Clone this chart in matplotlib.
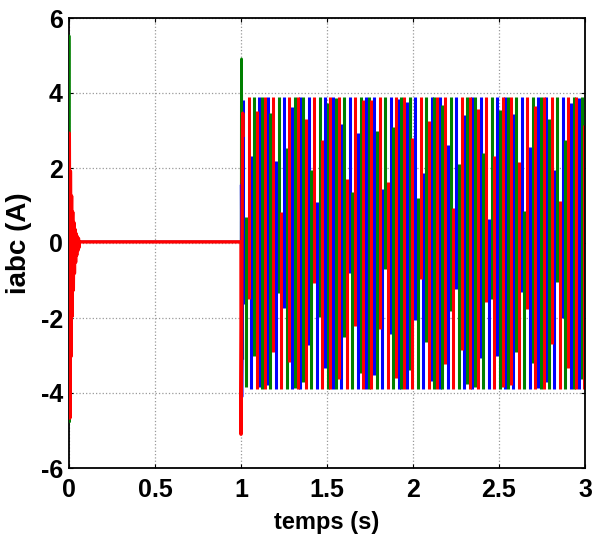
import numpy as np
import matplotlib
matplotlib.use("Agg")
import matplotlib.pyplot as plt

plt.rcParams['font.family'] = ['Liberation Sans', 'DejaVu Sans']

# --- data ---
phases = ["ia", "ib", "ic"]
colors = ["#0000ff", "#008000", "#ff0000"]
phase_deg = [60, -60, 180]              # phase of each current at the load step
freq_hz = 50.0
steady_amp = [3.9, 3.9, 3.9]
load_step_time = 1.0
step_dc = [-0.4, 1.4, -1.2]             # decaying offset right after t = 1 s
startup_hi = [1.6, 5.5, 2.9]            # first max near t = 0
startup_lo = [-1.5, -4.8, -4.7]         # first min near t = 0
startup_ratio = [0.4, 0.25, 0.65]       # cycle-to-cycle decay of the start-up ringing
startup_freq = 150.0
idle_level = [0.03, 0.03, 0.03]         # current between 0.05 s and 1 s
x_ticks = [0, 0.5, 1, 1.5, 2, 2.5, 3]
x_tick_labels = ["0", "0.5", "1", "1.5", "2", "2.5", "3"]
y_ticks = [-6, -4, -2, 0, 2, 4, 6]
y_tick_labels = ["-6", "-4", "-2", "0", "2", "4", "6"]

fig = plt.figure(figsize=(5.97, 5.44), dpi=100)
ax = fig.add_axes([69/597, 1-468/544, (585-69)/597, (468-18)/544])

w = 2*np.pi*freq_hz

def current(k, t):
    y = np.full_like(t, idle_level[k], dtype=float)
    m0 = t < 0.06
    ts = t[m0]
    lobe = np.floor(ts*2*startup_freq)
    frac = ts*2*startup_freq - lobe
    base = np.where(lobe % 2 == 0, startup_hi[k], startup_lo[k])
    y[m0] = base*startup_ratio[k]**np.floor(lobe/2)*np.sin(np.pi*frac) + idle_level[k]
    m1 = t >= load_step_time
    tt = t[m1] - load_step_time
    y[m1] = steady_amp[k]*np.cos(w*tt + np.deg2rad(phase_deg[k])) + step_dc[k]*np.exp(-tt/0.01)
    return y

# start-up, idle period and load step drawn as ordinary lines
t_low = np.arange(0, 1.012, 5e-5)
for k in [1, 0, 2]:
    ax.plot(t_low, current(k, t_low), color=colors[k], lw=1.6 if k < 2 else 2.4,
            solid_capstyle='butt', zorder=3)

# loaded period: min/max decimation into sparse screen columns
col_step = 2.382/freq_hz               # per phase
col_span = 0.011
sub = np.linspace(0, col_span, 30)
for k in [0, 1, 2]:
    tc = np.arange(1.012 + k*col_step/3, 3.0, col_step)
    vals = current(k, tc[:, None] + sub[None, :])
    ax.vlines(tc, vals.min(axis=1), vals.max(axis=1), color=colors[k], lw=2.2)

ax.set_xlim(0, 3)
ax.set_ylim(-6, 6)
ax.set_xticks(x_ticks)
ax.set_xticklabels(x_tick_labels)
ax.set_yticks(y_ticks)
ax.set_yticklabels(y_tick_labels)
ax.grid(True, color='#999999', linestyle=':', linewidth=0.9)
ax.set_axisbelow(True)
ax.tick_params(direction='in', length=3, labelsize=18, top=True, right=True)
ax.tick_params(axis='x', pad=7.5)
ax.tick_params(axis='y', pad=4.5)
for lab in ax.get_xticklabels() + ax.get_yticklabels():
    lab.set_fontweight('bold')
for s in ax.spines.values():
    s.set_linewidth(1.3)
ax.set_xlabel("temps (s)", fontsize=17, fontweight='bold', labelpad=6)
ax.set_ylabel("iabc (A)", fontsize=20, fontweight='bold', labelpad=6)

fig.savefig("out.png", dpi=100)
